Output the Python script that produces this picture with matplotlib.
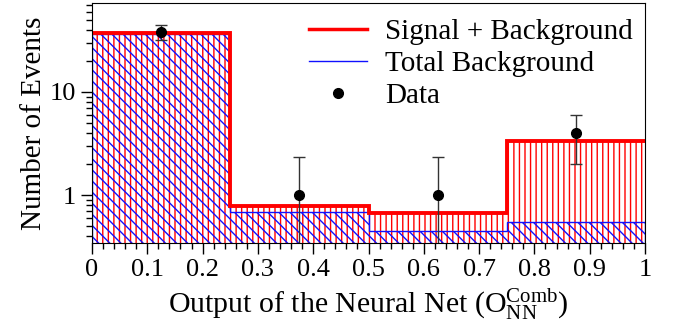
# Neural net output: signal + background vs data (log scale)
import numpy as np
import matplotlib.pyplot as plt
from matplotlib.lines import Line2D

plt.rcParams['font.family'] = ['Liberation Serif', 'DejaVu Serif']
plt.rcParams['mathtext.fontset'] = 'custom'
plt.rcParams['mathtext.rm'] = 'Liberation Serif'
plt.rcParams['mathtext.it'] = 'Liberation Serif:italic'
plt.rcParams['hatch.linewidth'] = 1.0

# bins of the NN output
edges = [0.0, 0.25, 0.5, 0.75, 1.0]
sig_plus_bkg = [37.0, 0.78, 0.67, 3.34]
total_bkg = [36.5, 0.68, 0.45, 0.55]

# data points with asymmetric errors
data_x = [0.125, 0.375, 0.625, 0.875]
data_y = [38.0, 1.0, 1.0, 4.0]
err_lo = [6.0, 0.999, 0.999, 2.0]
err_hi = [6.2, 1.35, 1.35, 2.0]

fig = plt.figure(figsize=(6.74, 3.33), dpi=100)
ax = fig.add_axes([0.1365, 0.270, 0.8205, 0.721])

# signal + background: red vertical hatch, thick outline
ax.stairs(sig_plus_bkg, edges, baseline=0.01, fill=True, facecolor='none',
          edgecolor='#ff0000', linewidth=0, hatch='|||')
# background: blue diagonal hatch
ax.stairs(total_bkg, edges, baseline=0.01, fill=True, facecolor='none',
          edgecolor='#1010ff', linewidth=0, hatch='\\\\\\')
ax.stairs(total_bkg, edges, baseline=0.01, fill=False, color='#1010ff', linewidth=1.0)
ax.stairs(sig_plus_bkg, edges, baseline=None, fill=False, color='#ff0000', linewidth=2.8)

ax.errorbar(data_x, data_y, yerr=[err_lo, err_hi], fmt='o', color='black',
            ecolor='#333333', elinewidth=1.0, capsize=4, capthick=1.0, markersize=7)

ax.set_yscale('log')
ax.set_xlim(0, 1)
ax.set_ylim(0.342, 73)
ax.set_xticks(np.arange(0, 1.01, 0.1))
ax.set_xticklabels(['0', '0.1', '0.2', '0.3', '0.4', '0.5', '0.6', '0.7', '0.8', '0.9', '1'])
ax.set_xticks(np.arange(0, 1.001, 0.02), minor=True)
ax.set_yticks([1, 10])
ax.set_yticklabels(['1', '10'])
ax.tick_params(which='major', length=8, width=1, labelsize=19, direction='out')
ax.tick_params(which='minor', length=4, width=1, direction='out')
ax.tick_params(axis='y', which='minor', labelleft=False)

ax.set_ylabel('Number of Events', fontsize=21, labelpad=2)
ax.set_xlabel(r'Output of the Neural Net (O$_{\rm NN}^{\rm Comb}$)', fontsize=21.5, labelpad=4)

handles = [Line2D([], [], color='#ff0000', lw=2.5),
           Line2D([], [], color='#1010ff', lw=1.0),
           Line2D([], [], color='black', marker='o', ls='none', markersize=7)]
ax.legend(handles, ['Signal + Background', 'Total Background', 'Data'],
          loc='upper right', frameon=False, fontsize=21, handlelength=2.0,
          handletextpad=0.6, labelspacing=0.2, bbox_to_anchor=(1.025, 1.045))

fig.savefig('out.png', dpi=100)
